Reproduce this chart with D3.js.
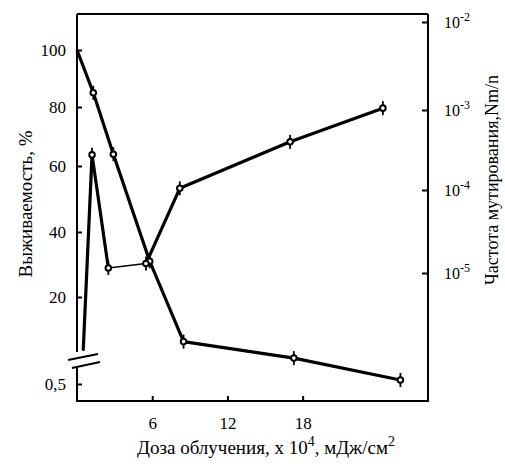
<!DOCTYPE html>
<html>
<head>
<meta charset="utf-8">
<script src="https://cdn.jsdelivr.net/npm/d3@7"></script>
<style>
  body { margin: 0; background: #fff; }
  svg { display: block; }
</style>
</head>
<body>
<svg class="vis" width="505" height="467"></svg>
<script>
// values
const doseSurv = [0, 1.3, 2.9, 5.8, 8.5, 17.3, 25.8];
const survival = [100, 85, 64, 31, 10, 6.3, 1.4];

const doseMut  = [0.5, 1.2, 2.5, 5.5, 8.2, 17.0, 24.4];
const mutation = [1.2e-6, 2.75e-4, 1.15e-5, 1.3e-5, 1.05e-4, 4e-4, 1.05e-3];

const xTicks     = [6, 12, 18];
const survTicks  = [0.5, 20, 40, 60, 80, 100];
const mutTicks   = [1e-5, 1e-4, 1e-3, 1e-2];

const svg = d3.select("svg.vis");
const font = "Liberation Serif, Times New Roman, serif";

const frame = { left: 77, right: 428, top: 14, bottom: 401 };

const x = d3.scaleLinear().domain([0, 28]).range([frame.left, frame.right]);
// left axis is broken below 20, the scan is not quite linear either
const yS = d3.scaleLinear()
    .domain(survTicks)
    .range([384, 297, 232, 166, 107, 50]);
const yM = d3.scaleLog()
    .domain(mutTicks)
    .range([273, 190, 110, 22]);

// frame
const fr = svg.append("g").attr("stroke", "#000").attr("stroke-width", 2).attr("fill", "none");
fr.append("line").attr("x1", frame.left).attr("x2", frame.right).attr("y1", frame.top).attr("y2", frame.top);
fr.append("line").attr("x1", frame.right).attr("x2", frame.right).attr("y1", frame.top).attr("y2", frame.bottom);
fr.append("line").attr("x1", frame.left - 1).attr("x2", frame.right + 1).attr("y1", frame.bottom).attr("y2", frame.bottom);
fr.append("line").attr("x1", frame.left).attr("x2", frame.left).attr("y1", frame.top).attr("y2", 352);
fr.append("line").attr("x1", frame.left).attr("x2", frame.left).attr("y1", 368).attr("y2", frame.bottom);
// break marks
fr.append("line").attr("x1", 68).attr("y1", 360).attr("x2", 98).attr("y2", 354);
fr.append("line").attr("x1", 72).attr("y1", 368).attr("x2", 100).attr("y2", 362);

function styleAxis(g) {
    g.select(".domain").remove();
    g.selectAll("line").attr("stroke-width", 2);
    g.attr("font-family", font).attr("font-size", 17);
}

svg.append("g")
    .attr("transform", `translate(${frame.left},0)`)
    .call(d3.axisLeft(yS).tickValues(survTicks)
        .tickFormat(d => d === 0.5 ? "0,5" : d)
        .tickSizeInner(-5).tickSizeOuter(0).tickPadding(11))
    .call(styleAxis);

svg.append("g")
    .attr("transform", `translate(0,${frame.bottom})`)
    .call(d3.axisBottom(x).tickValues(xTicks)
        .tickSizeInner(-5).tickSizeOuter(0).tickPadding(16))
    .call(styleAxis);

const rAx = svg.append("g")
    .attr("transform", `translate(${frame.right},0)`)
    .call(d3.axisRight(yM).tickValues(mutTicks)
        .tickSizeInner(-6).tickSizeOuter(0).tickPadding(16))
    .call(styleAxis);

rAx.selectAll(".tick text").each(function(d) {
    const t = d3.select(this).text("").attr("font-size", 16);
    t.append("tspan").text("10");
    t.append("tspan").attr("dy", -7).attr("font-size", 12)
        .text(Math.round(Math.log10(d)));
});

// curves
const survPts = doseSurv.map((d, i) => [x(d), yS(survival[i])]);
const mutPts  = doseMut.map((d, i) => [x(d), yM(mutation[i])]);

svg.append("path")
    .attr("d", d3.line()(survPts))
    .attr("fill", "none").attr("stroke", "#000")
    .attr("stroke-width", 3.2).attr("stroke-linejoin", "round");

// the mutation curve: the segment between the two low points is thinner in the scan
d3.pairs(mutPts).forEach((p, i) => {
    svg.append("line")
        .attr("x1", p[0][0]).attr("y1", p[0][1])
        .attr("x2", p[1][0]).attr("y2", p[1][1])
        .attr("stroke", "#000")
        .attr("stroke-width", i === 2 ? 1.6 : 3.2)
        .attr("stroke-linecap", "round");
});

// markers with error bars
const marks = svg.append("g").attr("stroke", "#000");
[survPts.slice(1), mutPts.slice(1)].forEach(pts => {
    marks.selectAll(null).data(pts).join("line")
        .attr("x1", d => d[0]).attr("x2", d => d[0])
        .attr("y1", d => d[1] - 7).attr("y2", d => d[1] + 7)
        .attr("stroke-width", 1.8);
    marks.selectAll(null).data(pts).join("circle")
        .attr("cx", d => d[0]).attr("cy", d => d[1])
        .attr("r", 2.8).attr("fill", "#fff").attr("stroke-width", 2);
});

// titles
svg.append("text")
    .attr("transform", "translate(32,204) rotate(-90)")
    .attr("text-anchor", "middle")
    .attr("font-family", font).attr("font-size", 19)
    .text("Выживаемость, %");

svg.append("text")
    .attr("transform", "translate(498,180) rotate(-90)")
    .attr("text-anchor", "middle")
    .attr("font-family", font).attr("font-size", 18)
    .text("Частота мутирования,Nm/n");

const xl = svg.append("text")
    .attr("x", 266).attr("y", 454)
    .attr("text-anchor", "middle")
    .attr("font-family", font).attr("font-size", 19);
xl.append("tspan").text("Доза облучения, x 10");
xl.append("tspan").attr("dy", -8).attr("font-size", 14).text("4");
xl.append("tspan").attr("dy", 8).text(", мДж/см");
xl.append("tspan").attr("dy", -8).attr("font-size", 14).text("2");
</script>
</body>
</html>
